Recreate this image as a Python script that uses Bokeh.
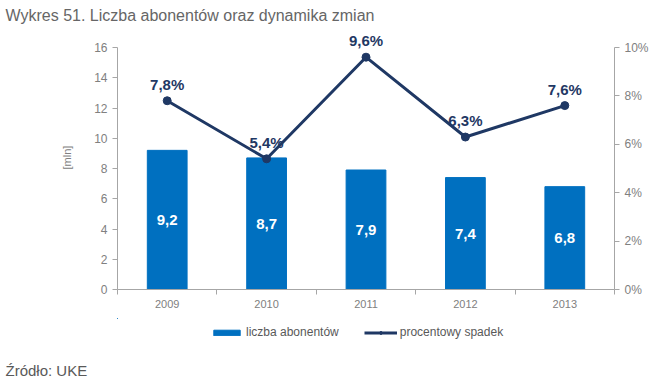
from bokeh.plotting import figure
from bokeh.layouts import column
from bokeh.models import (Range1d, LinearAxis, FixedTicker, PrintfTickFormatter,
                          ColumnDataSource, LabelSet, Legend, LegendItem, Title)
from bokeh.core.properties import value
from bokeh.embed import file_html
from bokeh.resources import INLINE

# ---- data ----
years = ["2009", "2010", "2011", "2012", "2013"]
subscribers = [9.2, 8.7, 7.9, 7.4, 6.8]          # mln
decline_pct = [7.8, 5.4, 9.6, 6.3, 7.6]           # %
left_ticks = [0, 2, 4, 6, 8, 10, 12, 14, 16]
right_ticks = [0, 2, 4, 6, 8, 10]

FONT = "Liberation Sans"
BAR_C = "#0070C0"
LINE_C = "#1F3864"
AXIS_C = "#A6A6A6"
TICK_TXT = "#808080"

L_MAX, R_MAX = left_ticks[-1], right_ticks[-1]
HEAD = 264 / 242          # head-room above the axes so the top label is not clipped

xs = list(range(len(years)))
bounds = [x - 0.5 for x in xs] + [xs[-1] + 0.5]

p = figure(width=655, height=318, output_backend="svg", toolbar_location=None,
           x_range=Range1d(-0.5, len(years) - 0.5), y_range=Range1d(0, L_MAX * HEAD),
           min_border_left=117, min_border_right=41, min_border_top=25, min_border_bottom=29)
p.outline_line_color = None
p.xgrid.grid_line_color = None
p.ygrid.grid_line_color = None

p.title = Title(text="Wykres 51. Liczba abonentów oraz dynamika zmian", align="left",
                offset=-112, standoff=4, text_font_size="16px", text_font_style="normal",
                text_color="#666666", text_font=FONT)

p.extra_y_ranges = {"pct": Range1d(0, R_MAX * HEAD)}

src = ColumnDataSource(dict(
    x=xs, sub=subscribers, half=[v / 2 for v in subscribers],
    sub_lbl=[f"{v:.1f}".replace(".", ",") for v in subscribers],
    pct=decline_pct,
    pct_lbl=[f"{v:.1f}%".replace(".", ",") for v in decline_pct],
))

bars = p.vbar(x="x", top="sub", width=0.4, source=src, color=BAR_C)
line = p.line(x="x", y="pct", source=src, y_range_name="pct", line_color=LINE_C, line_width=3)
dots = p.scatter(x="x", y="pct", source=src, y_range_name="pct", size=8, color=LINE_C)

p.add_layout(LabelSet(x="x", y="half", text="sub_lbl", source=src, text_align="center",
                      text_baseline="middle", text_color="white", text_font=value(FONT),
                      text_font_size="15px", text_font_style="bold"))
p.add_layout(LabelSet(x="x", y="pct", text="pct_lbl", source=src, y_range_name="pct",
                      text_align="center", text_baseline="alphabetic", y_offset=11,
                      text_color=LINE_C, text_font=value(FONT), text_font_size="15px",
                      text_font_style="bold"))

# axes
xa = p.xaxis[0]
xa.ticker = FixedTicker(ticks=xs, minor_ticks=bounds)
xa.major_label_overrides = {x: y for x, y in zip(xs, years)}
xa.major_tick_line_color = None
xa.major_tick_in = 0
xa.major_tick_out = 5
xa.minor_tick_line_color = AXIS_C
xa.minor_tick_in = 0
xa.minor_tick_out = 5
xa.axis_line_color = AXIS_C
xa.major_label_text_font = FONT
xa.major_label_text_font_size = "11px"
xa.major_label_text_color = TICK_TXT
xa.major_label_standoff = 5

ya = p.yaxis[0]
ya.ticker = FixedTicker(ticks=left_ticks)
ya.bounds = (0, L_MAX)
ya.axis_label = "[mln]"
ya.axis_label_text_font = FONT
ya.axis_label_text_font_size = "11px"
ya.axis_label_text_font_style = "normal"
ya.axis_label_text_color = TICK_TXT
ya.axis_label_standoff = 18

ra = LinearAxis(y_range_name="pct", ticker=FixedTicker(ticks=right_ticks),
                formatter=PrintfTickFormatter(format="%d%%"), bounds=(0, R_MAX))
p.add_layout(ra, "right")

for ax in (ya, ra):
    ax.axis_line_color = AXIS_C
    ax.major_tick_line_color = AXIS_C
    ax.major_tick_in = 0
    ax.major_tick_out = 5
    ax.minor_tick_line_color = None
    ax.major_label_text_font = FONT
    ax.major_label_text_font_size = "12px"
    ax.major_label_text_color = TICK_TXT
    ax.major_label_standoff = 5

# ---- lower strip: legend + source (its frame is aligned with the chart's frame) ----
p2 = figure(width=655, height=69, output_backend="svg", toolbar_location=None,
            x_range=Range1d(len(xs) + 10, len(xs) + 11), y_range=Range1d(-2, -1),
            min_border_left=117, min_border_right=41, min_border_top=0, min_border_bottom=28)
p2.axis.visible = False
p2.grid.visible = False
p2.outline_line_color = None

# same series, placed outside the strip's visible range: only their legend keys show
k_bar = p2.vbar(x="x", top="sub", width=0.4, source=src, color=BAR_C)
k_line = p2.line(x="x", y="pct", source=src, line_color=LINE_C, line_width=3)
k_dot = p2.scatter(x="x", y="pct", source=src, size=8, color=LINE_C)

legend = Legend(items=[LegendItem(label="liczba abonentów", renderers=[k_bar]),
                       LegendItem(label="procentowy spadek", renderers=[k_line, k_dot])],
                orientation="horizontal", location=(93, 20), border_line_color=None,
                background_fill_alpha=0, label_text_font=FONT, label_text_font_size="12px",
                label_text_color="#595959", glyph_width=33, glyph_height=7, spacing=25,
                label_standoff=3, padding=0, margin=0, label_height=14)
p2.add_layout(legend, "center")

p2.add_layout(Title(text="Źródło: UKE", align="left", offset=-112, standoff=0,
                    text_font_size="15px", text_font_style="normal",
                    text_color="#595959", text_font=FONT), "below")

layout = column(p, p2, spacing=0)
open("out.html", "w").write(file_html(layout, INLINE))
